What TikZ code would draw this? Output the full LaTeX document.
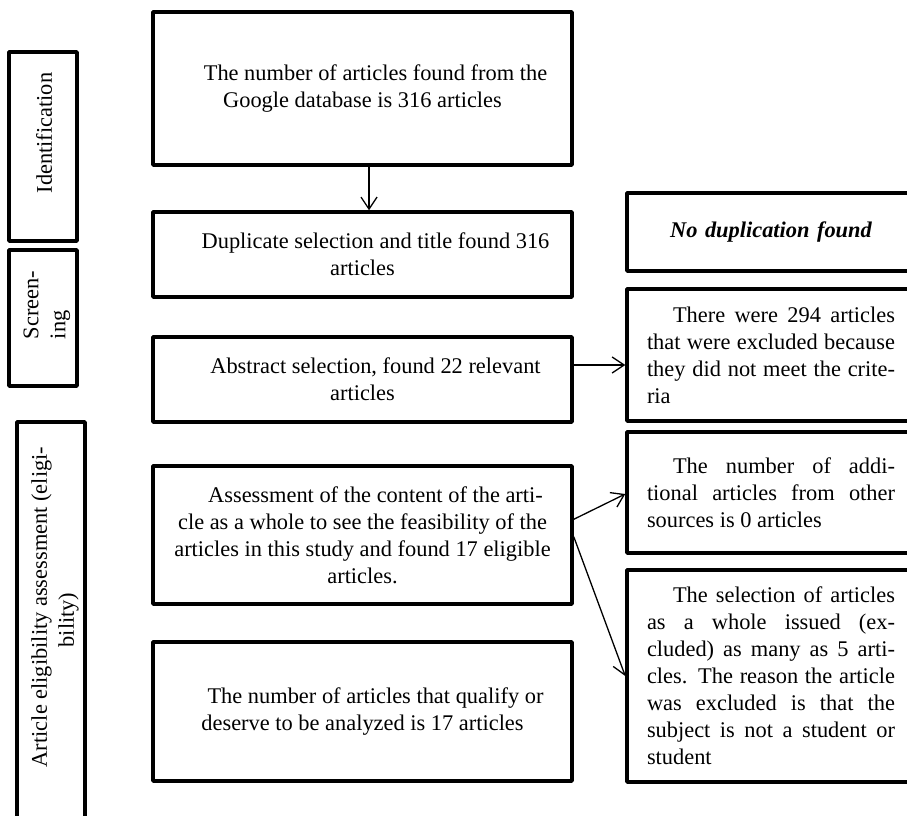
\documentclass[tikz,border=0pt]{standalone}
\usepackage{fontspec}
\setmainfont{Liberation Serif}
\usetikzlibrary{arrows.meta}
\newcommand{\diafont}{\fontsize{22.4}{27}\selectfont}
\tolerance=10000
\hbadness=10000
\begin{document}
\begin{tikzpicture}[x=1pt,y=-1pt,
  box/.style={draw=black, line width=3.5pt, line join=round, inner sep=0pt},
  midbox/.style={box, minimum width=419pt, align=center, font=\diafont},
  rbox/.style={box, text width=248pt, inner xsep=20pt, inner ysep=2pt, align=justify,
    font=\diafont},
  sidebox/.style={box, minimum width=68pt},
  lab/.style={rotate=90, font=\diafont, inner sep=0pt},
  arr/.style={line width=1.3pt, -{Straight Barb[length=12pt,width=16pt,line width=1.3pt]}},
]
\useasboundingbox (0,0) rectangle (907,816);
\clip (0,0) rectangle (907,816);

% left stage boxes
\node[sidebox, minimum height=189pt] (ident) at (43,146.5) {};
\node[lab] (identtxt) at (44,133) {Identification};
\node[sidebox, minimum height=136pt] (screen) at (43,318) {};
\node[lab, align=left] (screentxt) at (47,305) {Screen-\\ing};
\node[sidebox, minimum height=398pt] (elig) at (51,621) {};
\node[lab, align=center] (eligtxt) at (55,620) {\hspace*{26pt}Article eligibility assessment (eligi-\\bility)};

% middle column
\node[midbox, minimum height=153pt] (b1) at (362.5,88.5)
  {\hspace*{26pt}The number of articles found from the\\Google database is 316 articles};
\node[midbox, minimum height=85pt] (b2) at (362.5,254.5)
  {\hspace*{26pt}Duplicate selection and title found 316\\articles};
\node[midbox, minimum height=85pt] (b3) at (362.5,379.5)
  {\hspace*{26pt}Abstract selection, found 22 relevant\\articles};
\node[midbox, minimum height=138pt] (b4) at (362.5,535)
  {\hspace*{26pt}Assessment of the content of the arti-\\cle as a whole to see the feasibility of the\\articles in this study and found 17 eligible\\articles.};
\node[midbox, minimum height=139pt] (b5) at (362.5,711.5)
  {\hspace*{26pt}The number of articles that qualify or\\deserve to be analyzed is 17 articles};

% right column
\node[rbox, minimum height=78pt, align=center] (nodup) at (771,232)
  {\bfseries\itshape No duplication found};
\node[rbox, minimum height=132pt] (excl) at (771,355)
  {\hspace*{26pt}There were 294 articles\linebreak that were excluded because\linebreak they did not meet the crite-\linebreak ria};
\node[rbox, minimum height=121pt] (addl) at (771,492.5)
  {\hspace*{26pt}The number of addi-\linebreak tional articles from other\linebreak sources is 0 articles};
\node[rbox, minimum height=212pt] (sel) at (771,676)
  {\hspace*{26pt}The selection of articles\linebreak as a whole issued (ex-\linebreak cluded) as many as 5 arti-\linebreak cles. The reason the article\linebreak was excluded is that the\linebreak subject is not a student or\linebreak student};

% connectors
\draw[arr] ([xshift=6.5pt]b1.south) -- ([xshift=6.5pt]b2.north);
\draw[arr] ([yshift=14.5pt]b3.east) coordinate (a3) -- (a3 -| excl.west);
\draw[arr] ([yshift=15.7pt]b4.east) -- ([yshift=-1.5pt]addl.west);
\draw[arr] ([yshift=-1.7pt]b4.east) -- (sel.west);
\end{tikzpicture}
\end{document}
